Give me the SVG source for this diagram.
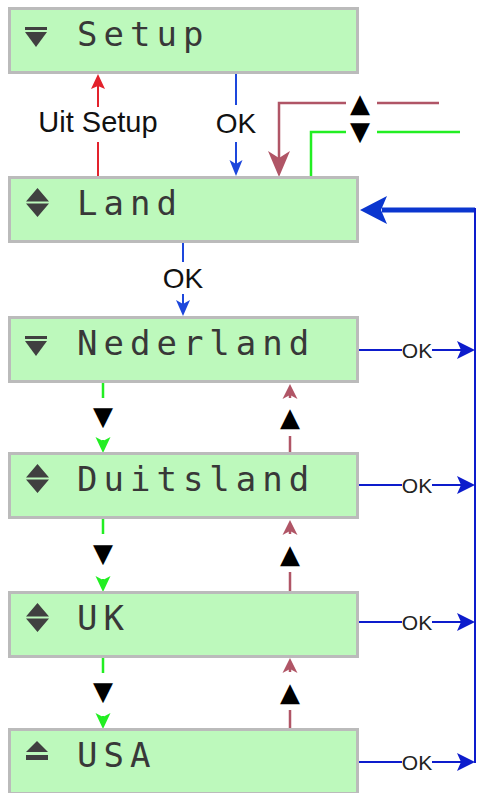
<svg xmlns="http://www.w3.org/2000/svg" width="477" height="793" viewBox="0 0 477 793">
<style>
.box{fill:#bdf9bc;stroke:#bbbbbb;stroke-width:3}
.lbl{font-family:"DejaVu Sans Mono",monospace;font-size:34px;letter-spacing:6px;fill:#383838}
.ico{fill:#404040}
.t28{font-family:"Liberation Sans",Arial,sans-serif;font-size:28px;fill:#111;text-anchor:middle}
.ok{font-family:"Liberation Sans",Arial,sans-serif;font-size:21px;fill:#222;text-anchor:middle}
.sym{font-family:"DejaVu Sans",sans-serif;font-size:26px;fill:#000;text-anchor:middle}
.red{stroke:#e3222c;stroke-width:2;fill:none}
.blu{stroke:#1d47dc;stroke-width:2;fill:none}
.bus{stroke:#0d1ccc;stroke-width:2;fill:none}
.mar{stroke:#b05566;stroke-width:2.5;fill:none}
.grn{stroke:#22ee22;stroke-width:2.5;fill:none}
</style>
<g id="connectors">
  <!-- Setup <- Land (Uit Setup) -->
  <path class="red" d="M98,86 V107 M98,142 V177"/>
  <path fill="#e3222c" d="M98,74 L91,89 L98,86 L105,89 Z"/>
  <text class="t28" x="98" y="132" style="font-size:29px">Uit Setup</text>
  <!-- Setup -> Land OK -->
  <path class="blu" d="M236,74 V105 M236,142 V165"/>
  <path fill="#1d47dc" d="M236,176 L229.5,160 L236,164 L242.5,160 Z"/>
  <text class="t28" x="236" y="133">OK</text>
  <!-- Land -> Nederland OK -->
  <path class="blu" d="M183,243 V262 M183,294 V304"/>
  <path fill="#1d47dc" d="M183,316 L176,300 L183,304 L190,300 Z"/>
  <text class="t28" x="183" y="288">OK</text>
  <!-- top up/down keys -->
  <path class="mar" d="M439,103 H377 M346,103 H279 V158"/>
  <path fill="#b05566" d="M279,177 L268,151 L279,158 L290,151 Z"/>
  <path class="grn" d="M460,132 H377 M346,132 H311 V177"/>
  <text class="sym" x="360" y="112">▲</text>
  <text class="sym" x="360" y="140">▼</text>
  <!-- right bus -->
  <path d="M475,210 H382" stroke="#0b36cf" stroke-width="5" fill="none"/>
  <path fill="#0b36cf" d="M360,210 L387,196 L381,210 L387,224 Z"/>
  <path class="bus" d="M475,208 V763"/>
  <path class="bus" d="M358,350 H402 M432,350 H462"/>
  <path fill="#0d1ccc" d="M475,350 L457,341 L461,350 L457,359 Z"/>
  <text class="ok" x="417" y="357.5">OK</text>
  <path class="bus" d="M358,485 H402 M432,485 H462"/>
  <path fill="#0d1ccc" d="M475,485 L457,476 L461,485 L457,494 Z"/>
  <text class="ok" x="417" y="492.5">OK</text>
  <path class="bus" d="M358,622 H402 M432,622 H462"/>
  <path fill="#0d1ccc" d="M475,622 L457,613 L461,622 L457,631 Z"/>
  <text class="ok" x="417" y="629.5">OK</text>
  <path class="bus" d="M358,762 H402 M432,762 H462"/>
  <path fill="#0d1ccc" d="M475,762 L457,753 L461,762 L457,771 Z"/>
  <text class="ok" x="417" y="769.5">OK</text>
  <!-- Nederland <-> Duitsland -->
  <path class="grn" d="M103,383 V398 M103,440 V443"/>
  <path fill="#22ee22" d="M103,453 L95.5,437 L103,441 L110.5,437 Z"/>
  <text class="sym" x="103" y="425">▼</text>
  <path class="mar" d="M290,394 V398 M290,436 V453"/>
  <path fill="#b05566" d="M290,384 L282.5,399 L290,395 L297.5,399 Z"/>
  <text class="sym" x="290" y="426">▲</text>
  <!-- Duitsland <-> UK -->
  <path class="grn" d="M103,519 V534 M103,579 V582"/>
  <path fill="#22ee22" d="M103,592 L95.5,576 L103,580 L110.5,576 Z"/>
  <text class="sym" x="103" y="562">▼</text>
  <path class="mar" d="M290,530 V534 M290,572 V592"/>
  <path fill="#b05566" d="M290,520 L282.5,535 L290,531 L297.5,535 Z"/>
  <text class="sym" x="290" y="563">▲</text>
  <!-- UK <-> USA -->
  <path class="grn" d="M103,657 V673 M103,716 V719"/>
  <path fill="#22ee22" d="M103,729 L95.5,713 L103,717 L110.5,713 Z"/>
  <text class="sym" x="103" y="700">▼</text>
  <path class="mar" d="M290,668 V672 M290,710 V729"/>
  <path fill="#b05566" d="M290,658 L282.5,673 L290,669 L297.5,673 Z"/>
  <text class="sym" x="290" y="701">▲</text>
</g>
<g id="setup">
  <rect class="box" x="9.5" y="8.5" width="348" height="64"/>
  <rect class="ico" x="25" y="27" width="22" height="3"/>
  <path class="ico" d="M25,32 H47 L36,47 Z"/>
  <text class="lbl" x="77" y="46">Setup</text>
</g>
<g id="land">
  <rect class="box" x="9.5" y="177.5" width="348" height="64"/>
  <path class="ico" d="M37.5,188 L49,201.5 H26 Z M26,203.5 H49 L37.5,217 Z"/>
  <text class="lbl" x="77" y="215">Land</text>
</g>
<g id="nederland">
  <rect class="box" x="9.5" y="317.5" width="348" height="64"/>
  <rect class="ico" x="25" y="336" width="22" height="3"/>
  <path class="ico" d="M25,341 H47 L36,356 Z"/>
  <text class="lbl" x="77" y="355">Nederland</text>
</g>
<g id="duitsland">
  <rect class="box" x="9.5" y="453.5" width="348" height="64"/>
  <path class="ico" d="M37.5,464 L49,477.5 H26 Z M26,479.5 H49 L37.5,493 Z"/>
  <text class="lbl" x="77" y="491">Duitsland</text>
</g>
<g id="uk">
  <rect class="box" x="9.5" y="592.5" width="348" height="64"/>
  <path class="ico" d="M37.5,603 L49,616.5 H26 Z M26,618.5 H49 L37.5,632 Z"/>
  <text class="lbl" x="77" y="630">UK</text>
</g>
<g id="usa">
  <rect class="box" x="9.5" y="729.5" width="348" height="64"/>
  <path class="ico" d="M37,741 L48,752 H26 Z"/>
  <rect class="ico" x="26" y="755" width="22" height="5"/>
  <text class="lbl" x="77" y="767">USA</text>
</g>
</svg>
